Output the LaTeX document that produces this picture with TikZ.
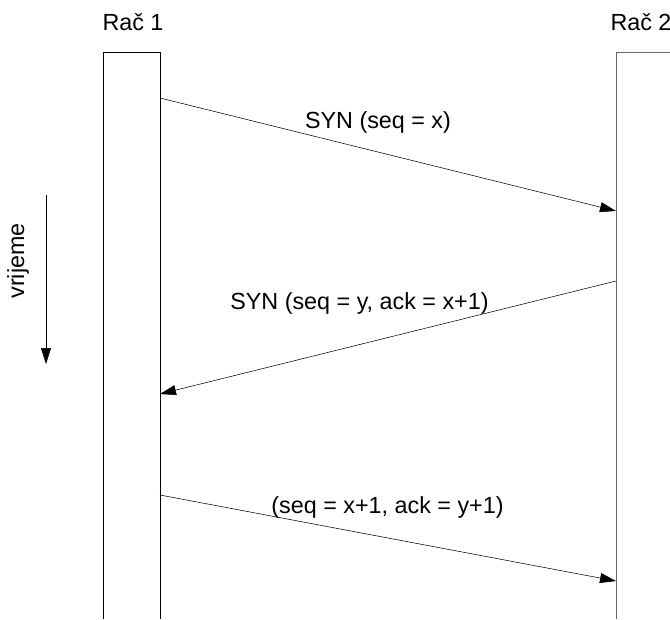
\documentclass[tikz,border=0pt]{standalone}
\usepackage{fontspec}
\setmainfont{Liberation Sans}
\usetikzlibrary{arrows.meta}

\begin{document}
\begin{tikzpicture}[x=0.75pt,y=-0.75pt,>={Triangle[length=12pt,width=7.5pt]},
  lbl/.style={font=\fontsize{17.5}{21}\selectfont,inner sep=0pt},
  msg/.style={->,thin,black}]
  \useasboundingbox (0,0) rectangle (670,619);
  \def\B{619}

  % ================= racunala =================
  \draw[thin] (103,\B) -- (103,52) -- (160,52) -- (160,\B);
  \draw[thin,black!60] (616,\B) -- (616,52) -- (671,52);
  \node[lbl] (r1) at (133,22) {Rač 1};
  \node[lbl] (r2) at (641,22) {Rač 2};

  % ================= krajnje tocke poruka =================
  \coordinate (a1) at (160,98);
  \coordinate (b1) at (616,211);
  \coordinate (b2) at (616,281);
  \coordinate (a2) at (160,394);
  \coordinate (a3) at (160,495);
  \coordinate (b3) at (616,581);

  % ================= poruke =================
  \draw[msg] (a1) -- (b1);
  \node[lbl] (m1) at (378,122) {SYN (seq = x)};
  \draw[msg] (b2) -- (a2);
  \node[lbl] (m2) at (359.5,303) {SYN (seq = y, ack = x+1)};
  \draw[msg] (a3) -- (b3);
  \node[lbl] (m3) at (387.5,507) {(seq = x+1, ack = y+1)};

  % ================= vrijeme =================
  \node[lbl,rotate=90] (t) at (18,261) {vrijeme};
  \coordinate (t1) at (46,195);
  \coordinate (t2) at (46,364);
  \draw[msg] (t1) -- (t2);

\end{tikzpicture}
\end{document}
